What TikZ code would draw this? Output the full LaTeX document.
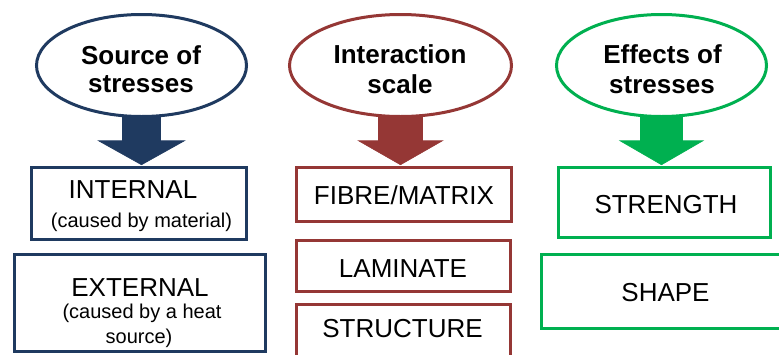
\documentclass[tikz,border=0pt]{standalone}
\usepackage{fontspec}
\setmainfont{Liberation Sans}
\usetikzlibrary{shapes.geometric,calc}
\definecolor{navy}{HTML}{1F3A60}
\definecolor{brick}{HTML}{953735}
\definecolor{grn}{HTML}{00B050}
\tikzset{
  ell/.style={ellipse, draw=#1, line width=3pt, fill=white, inner sep=0pt},
  box/.style={rectangle, draw=#1, line width=3.5pt, inner sep=0pt},
  ttltxt/.style={anchor=base, font=\fontsize{26}{28}\selectfont\bfseries, inner sep=0pt},
  captxt/.style={anchor=base, font=\fontsize{26}{28}\selectfont, inner sep=0pt},
  smltxt/.style={anchor=base, font=\fontsize{20}{24}\selectfont, inner sep=0pt},
  blk/.style={fill=#1, draw=#1, line width=0.6pt, line join=miter}
}
% #1 colour, #2 ellipse, #3 box, #4 shaft half width, #5 head half width
\newcommand\blkarrow[5]{%
  \filldraw[blk=#1]
    ($(#2.south)+(-#4,-1)$) --
    ($(#2.south |- #3.north)+(-#4,-25)$) --
    ($(#2.south |- #3.north)+(-#5,-25)$) --
    ($(#2.south |- #3.north)+(0,-1)$) --
    ($(#2.south |- #3.north)+(#5,-25)$) --
    ($(#2.south |- #3.north)+(#4,-25)$) --
    ($(#2.south)+(#4,-1)$) -- cycle;
}
\begin{document}
\begin{tikzpicture}[x=1pt,y=-1pt]
\useasboundingbox (0,0) rectangle (779,354);
\clip (0,0) rectangle (779,354);

% ellipses
\node[ell=navy, minimum width=210, minimum height=102] (e1) at (141.5,65.5) {};
\node[ell=brick, minimum width=222, minimum height=102] (e2) at (400.5,65.5) {};
\node[ell=grn, minimum width=210, minimum height=102] (e3) at (661.5,65.5) {};

\node[ttltxt] (t1a) at (141,64) {Source of};
\node[ttltxt] (t1b) at (141,92) {stresses};
\node[ttltxt] (t2a) at (400,63) {Interaction};
\node[ttltxt] (t2b) at (400,93) {scale};
\node[ttltxt] (t3a) at (662.5,63) {Effects of};
\node[ttltxt] (t3b) at (662,93) {stresses};

% boxes
\node[box=navy, minimum width=215, minimum height=72] (b11) at (139,203.5) {};
\node[box=navy, minimum width=251, minimum height=97] (b12) at (140,303) {};
\node[box=brick, minimum width=215, minimum height=54] (b21) at (404,194.5) {};
\node[box=brick, minimum width=214, minimum height=51] (b22) at (403.5,266) {};
\node[box=brick, minimum width=214, minimum height=70] (b23) at (403.5,339.5) {};
\node[box=grn, minimum width=212, minimum height=70] (b31) at (664.5,202.5) {};
\node[box=grn, minimum width=300, minimum height=74] (b32) at (691.5,291.5) {};

% box texts
\node[captxt] (l11a) at (133,198) {INTERNAL};
\node[smltxt] (l11b) at (141.5,227.7) {(caused by material)};
\node[captxt] (l12a) at (140,296.7) {EXTERNAL};
\node[smltxt] (l12b) at (142,318.3) {(caused by a heat};
\node[smltxt] (l12c) at (139,343) {source)};
\node[captxt] (l21) at (404,204) {FIBRE/MATRIX};
\node[captxt] (l22) at (403,277) {LAMINATE};
\node[captxt] (l23) at (402.5,337.3) {STRUCTURE};
\node[captxt] (l31) at (666,213) {STRENGTH};
\node[captxt] (l32) at (665.5,301.7) {SHAPE};

% block arrows
\blkarrow{navy}{e1}{b11}{19}{43}
\blkarrow{brick}{e2}{b21}{22}{42}
\blkarrow{grn}{e3}{b31}{21}{41.5}
\end{tikzpicture}
\end{document}
